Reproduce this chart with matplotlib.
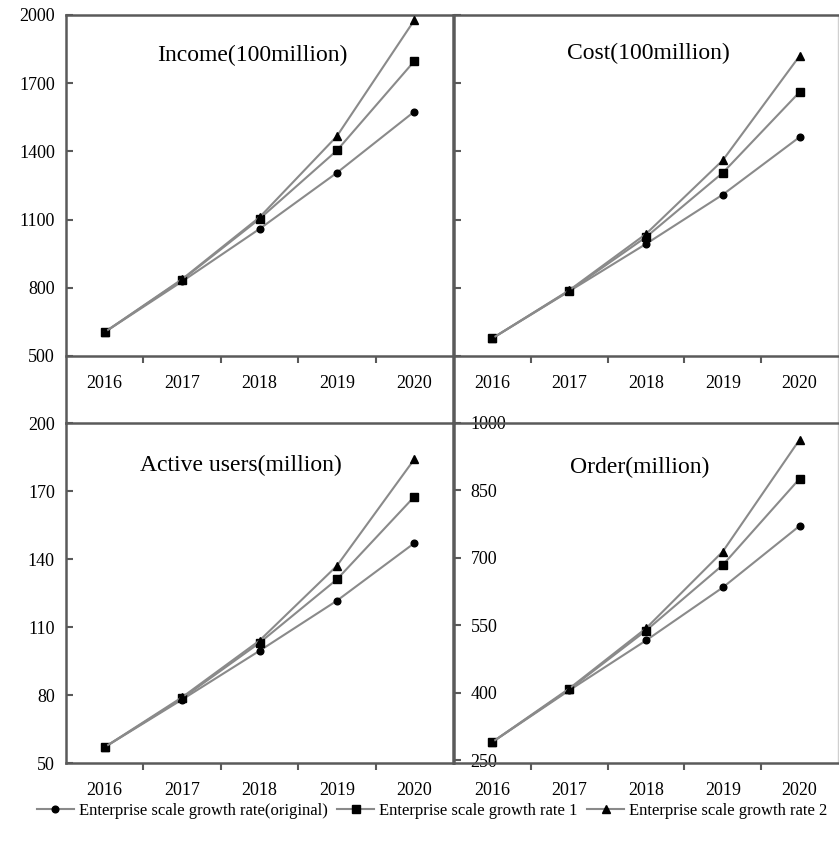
import matplotlib
matplotlib.use("Agg")
import matplotlib.pyplot as plt
from matplotlib.ticker import FixedLocator

plt.rcParams['font.family'] = ['Liberation Serif', 'DejaVu Serif']

years = ["2016", "2017", "2018", "2019", "2020"]
series_names = ["Enterprise scale growth rate(original)",
                "Enterprise scale growth rate 1",
                "Enterprise scale growth rate 2"]

income_orig = [605, 828, 1059, 1306, 1575]
income_r1 = [605, 835, 1103, 1404, 1797]
income_r2 = [605, 838, 1110, 1467, 1977]

cost_orig = [578, 785, 993, 1210, 1463]
cost_r1 = [578, 787, 1023, 1306, 1661]
cost_r2 = [578, 789, 1037, 1361, 1820]

users_orig = [57, 78, 99.5, 121.6, 147]
users_r1 = [57, 78.5, 103, 131, 167.5]
users_r2 = [57, 79, 104, 137, 184]

order_orig = [290, 405, 516, 634, 771]
order_r1 = [290, 407, 538, 684, 876]
order_r2 = [290, 409, 543, 714, 963]

titles = ["Income(100million)", "Cost(100million)", "Active users(million)", "Order(million)"]
yticks_top = [500, 800, 1100, 1400, 1700, 2000]
yticks_users = [50, 80, 110, 140, 170, 200]
yticks_order = [250, 400, 550, 700, 850, 1000]

W, H = 839, 847
fig = plt.figure(figsize=(W / 100, H / 100), dpi=100)

def rect(x0, y0, x1, y1):
    return [x0 / W, 1 - y1 / H, (x1 - x0) / W, (y1 - y0) / H]

spine_c = "#5a5a5a"
line_c = "#8a8a8a"
markers = ["o", "s", "^"]
msizes = [4.8, 5.2, 5.2]

def setup(ax, data, title, ylim, yticks, title_xy, show_ylabels=True, inside_labels=False, bottom_at=None):
    for s in ax.spines.values():
        s.set_color(spine_c)
        s.set_linewidth(1.8)
    if bottom_at is not None:
        ax.spines["bottom"].set_position(("data", bottom_at))
    x = [i + 0.5 for i in range(len(years))]
    for vals, m, ms, name in zip(data, markers, msizes, series_names):
        ax.plot(x, vals, color=line_c, lw=1.5, marker=m, ms=ms,
                mfc="black", mec="black", label=name, zorder=3)
    ax.set_xlim(0, 5)
    ax.set_ylim(*ylim)
    ax.set_xticks(x)
    ax.set_xticklabels(years, fontsize=13)
    ax.xaxis.set_minor_locator(FixedLocator([1, 2, 3, 4]))
    ax.tick_params(axis="x", which="major", length=0, pad=14)
    ax.tick_params(axis="x", which="minor", length=5, width=1.5, direction="out", color=spine_c)
    ax.set_yticks(yticks)
    ax.set_yticklabels([str(v) for v in yticks], fontsize=13)
    ax.tick_params(axis="y", length=5, width=1.5, direction="in", color=spine_c, pad=8,
                   labelleft=show_ylabels)
    if inside_labels:
        ax.tick_params(axis="y", pad=-12)
        for lab in ax.get_yticklabels():
            lab.set_horizontalalignment("left")
    ax.text(title_xy[0], title_xy[1], title, transform=ax.transAxes,
            ha="center", va="center", fontsize=17)
    ax.patch.set_alpha(0)

# top panels: frame 15..423 px, x axis line at 356 (value 500)
top_low = 500 - (423 - 356) * 1500 / 341
ax1 = fig.add_axes(rect(66, 15, 453, 423))
setup(ax1, [income_orig, income_r1, income_r2], titles[0], (top_low, 2000), yticks_top,
      ((252 - 66) / 387, 1 - (55 - 15) / 408), bottom_at=500)
ax2 = fig.add_axes(rect(454, 15, 838, 423))
setup(ax2, [cost_orig, cost_r1, cost_r2], titles[1], (top_low, 2000), yticks_top,
      ((648 - 454) / 384, 1 - (53 - 15) / 408), show_ylabels=False, bottom_at=500)
ax2.spines["right"].set_color("#d0d0d0")
ax2.spines["right"].set_linewidth(1.0)

ax3 = fig.add_axes(rect(66, 423, 453, 763))
setup(ax3, [users_orig, users_r1, users_r2], titles[2], (50, 200), yticks_users,
      ((241 - 66) / 387, 1 - (465 - 423) / 340))
ax4 = fig.add_axes(rect(454, 423, 838, 763))
order_low = 250 - 3 * 750 / 337
setup(ax4, [order_orig, order_r1, order_r2], titles[3], (order_low, 1000), yticks_order,
      ((640 - 454) / 384, 1 - (467 - 423) / 340), inside_labels=True)
ax4.spines["right"].set_color("#d0d0d0")
ax4.spines["right"].set_linewidth(1.0)

handles, labels = ax1.get_legend_handles_labels()
fig.legend(handles, labels, loc="center", bbox_to_anchor=(0.515, 1 - 811 / H), ncol=3,
           frameon=False, fontsize=12, handlelength=2.2, handletextpad=0.3,
           columnspacing=0.6)

fig.savefig("out.png", dpi=100)
